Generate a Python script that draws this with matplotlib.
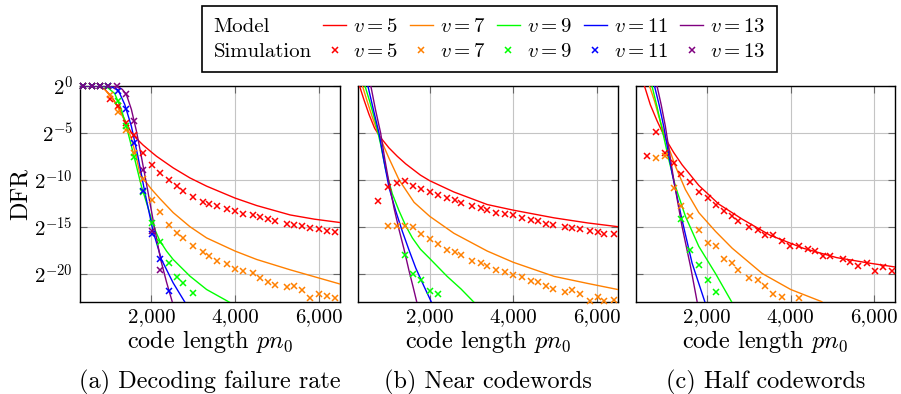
import matplotlib
matplotlib.use('Agg')
import numpy as np
from matplotlib import pyplot as plt
from matplotlib.lines import Line2D

plt.rcParams['font.family'] = 'serif'
plt.rcParams['font.serif'] = ['cmr10']
plt.rcParams['mathtext.fontset'] = 'cm'

v_values = [5, 7, 9, 11, 13]
colors = ['#ff0000', '#ff8000', '#00ff00', '#0000ff', '#800080']
captions = ['(a) Decoding failure rate', '(b) Near codewords', '(c) Half codewords']
x_ticks = [2000, 4000, 6000]
x_tick_labels = ['2,000', '4,000', '6,000']
y_tick_exp = [0, -5, -10, -15, -20]

# values are (code length, log2 DFR)
a_model = {
    5: ([290, 700, 880, 1040, 1200, 1360, 1520, 1576, 1720, 1800, 2000, 2120, 2520, 2920, 3320, 4000, 4520,
         5320, 5900, 6500],
        [0, 0, -0.35, -1.1, -2.2, -3.6, -5.0, -5.3, -5.95, -6.3, -7.05, -7.49, -8.73, -9.8, -10.68, -11.95,
         -12.75, -13.75, -14.2, -14.55]),
    7: ([290, 700, 880, 1040, 1200, 1360, 1520, 1640, 1720, 1800, 2000, 2200, 2520, 2920, 3320, 4000, 4520,
         5320, 6500],
        [0, 0, -0.35, -1.2, -2.3, -3.7, -5.6, -7.6, -9.3, -9.85, -11.0, -12.0, -13.5, -15.0, -16.2, -17.6,
         -18.5, -19.6, -21.1]),
    9: ([290, 800, 960, 1120, 1280, 1440, 1600, 1760, 1920, 2000, 2100, 2200, 2360, 2520, 2920, 3320, 3864],
        [0, 0, -0.2, -0.8, -2.5, -5.0, -7.8, -10.7, -13.0, -14.2, -15.5, -16.5, -17.6, -18.5, -20.27, -21.7,
         -23.05]),
    11: ([290, 900, 1040, 1200, 1360, 1520, 1680, 1840, 2040, 2240, 2520, 2800],
         [0, 0, -0.1, -0.4, -1.96, -4.3, -7.6, -11.3, -15.5, -18.5, -21.0, -23.05]),
    13: ([290, 1100, 1200, 1300, 1400, 1520, 1640, 1740, 1900, 2060, 2220, 2360, 2500],
         [0, 0, -0.1, -0.35, -0.9, -2.5, -4.8, -7.1, -10.9, -14.8, -18.5, -20.9, -23.05]),
}
a_sim = {
    5: ([370, 570, 770, 1000, 1200, 1390, 1590, 1800, 2010, 2210, 2410, 2600, 2750, 2990, 3230, 3380, 3560,
         3800, 4000, 4190, 4420, 4590, 4780, 4960, 5240, 5400, 5600, 5800, 6000, 6190, 6400],
        [0, 0, 0, -1.35, -2.13, -3.95, -5.25, -7.15, -8.4, -9.28, -10.05, -10.62, -11.22, -11.82, -12.36, -12.55,
         -12.82, -13.08, -13.28, -13.61, -13.8, -14.0, -14.22, -14.4, -14.67, -14.8, -14.92, -15.11, -15.28,
         -15.49, -15.56]),
    7: ([370, 570, 770, 1000, 1200, 1390, 1590, 1800, 2010, 2210, 2410, 2600, 2750, 2990, 3230, 3380, 3560,
         3800, 4000, 4190, 4420, 4590, 4780, 4960, 5240, 5400, 5600, 5800, 6000, 6190, 6400],
        [0, 0, 0, -1.0, -2.8, -4.7, -7.1, -9.93, -12.2, -13.46, -14.78, -15.68, -16.2, -17.09, -17.66, -18.15,
         -18.64, -18.95, -19.5, -19.75, -19.93, -20.46, -20.89, -21.24, -21.48, -21.35, -21.7, -22.63, -22.22,
         -22.44, -22.63]),
    9: ([370, 570, 770, 970, 1200, 1390, 1590, 1800, 2010, 2210, 2420, 2600, 2750, 2990],
        [0, 0, 0, 0, -1.55, -4.3, -7.6, -11.3, -14.58, -16.68, -18.9, -20.4, -21.05, -22.08]),
    11: ([370, 570, 770, 970, 1190, 1390, 1590, 1800, 2010, 2210, 2420],
         [0, 0, 0, 0, -0.5, -2.45, -6.1, -11.2, -15.8, -18.4, -21.85]),
    13: ([370, 570, 770, 970, 1170, 1390, 1590, 1800, 2010, 2210],
         [0, 0, 0, 0, 0, -0.8, -3.7, -9.0, -15.5, -19.6]),
}

b_model = {
    5: ([320, 420, 544, 680, 824, 1024, 1224, 1424, 1776, 2000, 2576, 3376, 4000, 4976, 5776, 6500],
        [0, -1.4, -3.0, -4.5, -5.5, -6.6, -7.5, -8.3, -9.5, -10.1, -11.3, -12.64, -13.24, -14.06, -14.6,
         -15.0]),
    7: ([390, 500, 624, 744, 864, 1024, 1264, 1624, 2000, 2576, 3376, 4000, 4976, 5776, 6500],
        [0, -1.6, -3.3, -4.8, -6.06, -7.7, -10.0, -12.4, -13.9, -15.7, -17.6, -18.8, -20.3, -21.05, -21.7]),
    9: ([450, 560, 704, 824, 944, 1104, 1264, 1424, 1584, 1776, 2000, 2416, 2750, 3056],
        [0, -1.6, -3.9, -6.2, -8.9, -11.5, -13.3, -14.9, -16.2, -17.4, -18.4, -20.3, -21.65, -23.05]),
    11: ([520, 650, 784, 904, 1024, 1184, 1344, 1504, 1664, 1856, 2040],
         [0, -2.5, -5.0, -8.0, -10.8, -13.3, -15.5, -17.5, -19.4, -21.3, -23.05]),
    13: ([590, 700, 824, 924, 1024, 1144, 1264, 1384, 1504, 1600, 1690],
         [0, -2.5, -5.0, -7.8, -10.3, -13.0, -15.3, -17.4, -19.7, -21.4, -23.05]),
}
b_sim = {
    5: ([760, 1000, 1216, 1400, 1592, 1800, 2016, 2200, 2416, 2600, 2752, 3000, 3216, 3376, 3576, 3800, 3992,
         4200, 4416, 4592, 4776, 4952, 5240, 5400, 5600, 5824, 6016, 6176, 6416],
        [-12.3, -10.78, -10.35, -10.18, -10.64, -10.96, -11.35, -11.6, -11.95, -12.13, -12.48, -12.77, -13.0,
         -13.2, -13.55, -13.6, -13.8, -14.1, -14.26, -14.43, -14.68, -14.82, -15.04, -15.14, -15.25, -15.5,
         -15.57, -15.8, -15.8]),
    7: ([1000, 1216, 1400, 1592, 1800, 2016, 2200, 2416, 2600, 2752, 3000, 3216, 3376, 3576, 3800, 3992,
         4200, 4416, 4592, 4776, 4952, 5240, 5400, 5600, 5824, 6016, 6176, 6416],
        [-14.9, -14.9, -14.96, -15.07, -15.74, -16.3, -16.8, -17.45, -17.73, -17.98, -18.7, -18.87, -19.2,
         -19.57, -19.86, -20.1, -20.35, -20.74, -20.85, -21.28, -21.6, -21.95, -21.7, -22.13, -22.94, -22.55,
         -22.94, -22.77]),
    9: ([1400, 1592, 1800, 2016, 2200],
        [-18.05, -20.0, -20.7, -21.9, -22.2]),
}

c_model = {
    5: ([500, 640, 800, 1000, 1200, 1400, 1800, 2280, 2840, 3500, 4300, 5100, 5900, 6500],
        [0, -2.0, -3.7, -5.6, -7.1, -8.4, -10.6, -12.6, -14.2, -15.9, -17.3, -18.3, -18.9, -19.3]),
    7: ([620, 740, 840, 1040, 1240, 1480, 1800, 2200, 2600, 3320, 4000, 4744],
        [0, -1.6, -3.2, -6.06, -8.55, -11.05, -13.5, -15.5, -17.3, -20.0, -21.7, -23.0]),
    9: ([680, 800, 920, 1080, 1240, 1480, 1800, 2200, 2584],
        [0, -2.2, -4.6, -7.8, -10.7, -13.9, -17.1, -20.0, -23.0]),
    11: ([740, 850, 960, 1160, 1400, 1640, 1944],
         [0, -2.0, -4.3, -9.3, -14.3, -18.9, -23.0]),
    13: ([800, 900, 1000, 1200, 1400, 1600, 1760],
         [0, -2.0, -4.3, -10.0, -15.0, -19.2, -23.0]),
}
c_sim = {
    5: ([560, 768, 1000, 1200, 1384, 1584, 1800, 2024, 2208, 2408, 2592, 2744, 2992, 3224, 3384, 3568, 3800,
         3984, 4200, 4408, 4584, 4768, 4944, 5240, 5408, 5600, 5824, 6024, 6200, 6424],
        [-7.5, -4.86, -7.16, -8.23, -9.36, -10.28, -11.28, -11.95, -12.73, -13.3, -13.9, -14.36, -15.0, -15.4,
         -15.85, -15.92, -16.56, -17.1, -17.1, -17.4, -17.6, -18.16, -18.16, -18.5, -18.76, -19.15, -18.87,
         -19.75, -19.33, -19.75]),
    7: ([768, 1000, 1200, 1384, 1584, 1800, 2024, 2208, 2408, 2592, 2744, 2992, 3224, 3384, 3568, 3800, 4200],
        [-7.7, -7.45, -10.9, -12.77, -13.9, -15.4, -16.7, -17.1, -18.4, -18.87, -19.57, -20.5, -20.7, -21.3,
         -22.2, -22.5, -22.6]),
    9: ([1384, 1584, 1800, 2024, 2208],
        [-14.2, -17.45, -19.1, -20.7, -22.0]),
}

W, H = 901, 394
fig = plt.figure(figsize=(W / 100, H / 100), dpi=100)

ax_left = [80, 358.3, 635.7]
ax_w, ax_top, ax_bot = 259.5, 86, 301.7

panels = [(a_model, a_sim), (b_model, b_sim), (c_model, c_sim)]
for i, (model, sim) in enumerate(panels):
    ax = fig.add_axes([ax_left[i] / W, 1 - ax_bot / H, ax_w / W, (ax_bot - ax_top) / H])
    for v, c in zip(v_values, colors):
        mx, me = model[v]
        ax.plot(mx, 2.0 ** np.array(me), color=c, lw=1.0, zorder=3)
    for v, c in zip(v_values, colors):
        if v in sim:
            sx, se = sim[v]
            ax.plot(sx, 2.0 ** np.array(se), ls='none', marker='x', ms=4.5, mew=1.1,
                    color=c, clip_on=False, zorder=4)
    ax.set_yscale('log', base=2)
    ax.set_xlim(290, 6500)
    ax.set_ylim(2.0 ** -23, 1)
    ax.set_xticks(x_ticks)
    ax.set_xticklabels(x_tick_labels, fontsize=15)
    ax.set_yticks([2.0 ** e for e in y_tick_exp])
    ax.minorticks_off()
    if i == 0:
        ax.set_yticklabels([r'$2^{%d}$' % e for e in y_tick_exp], fontsize=15)
        ax.set_ylabel('DFR', fontsize=17.5, labelpad=2)
    else:
        ax.set_yticklabels([])
    ax.grid(True, color='#c4c4c4', lw=0.8)
    ax.set_axisbelow(True)
    ax.tick_params(direction='in', length=5, width=0.8, color='#666666', top=True, right=True, pad=5)
    for s in ax.spines.values():
        s.set_linewidth(1.0)
    ax.set_xlabel(r'code length $pn_0$', fontsize=17.5, labelpad=1)
    ax.text(0.5, (ax_bot - 382) / (ax_bot - ax_top), captions[i], transform=ax.transAxes,
            ha='center', va='center', fontsize=17.5)

# legend: first column holds the row titles
blank = Line2D([], [], ls='none')
handles = [blank, blank]
labels = ['Model', 'Simulation']
for v, c in zip(v_values, colors):
    handles.append(Line2D([], [], color=c, lw=1.0))
    handles.append(Line2D([], [], color=c, ls='none', marker='x', ms=4, mew=1.1))
    labels += [r'$v = %d$' % v, r'$v = %d$' % v]

leg = fig.legend(handles, labels, ncol=6, loc='upper left', bbox_to_anchor=(202 / W, 1 - 6 / H),
                 borderaxespad=0, fontsize=15, handlelength=1.1, handletextpad=0.35, columnspacing=0.55,
                 labelspacing=0.3, borderpad=0.55, fancybox=False, edgecolor='black',
                 framealpha=1, numpoints=1)
leg.get_frame().set_linewidth(1.2)
first_col = leg._legend_handle_box.get_children()[0]
for item in first_col.get_children():
    item.get_children()[0].width = 0
    item.sep = 0

fig.savefig('out.png', dpi=100)
